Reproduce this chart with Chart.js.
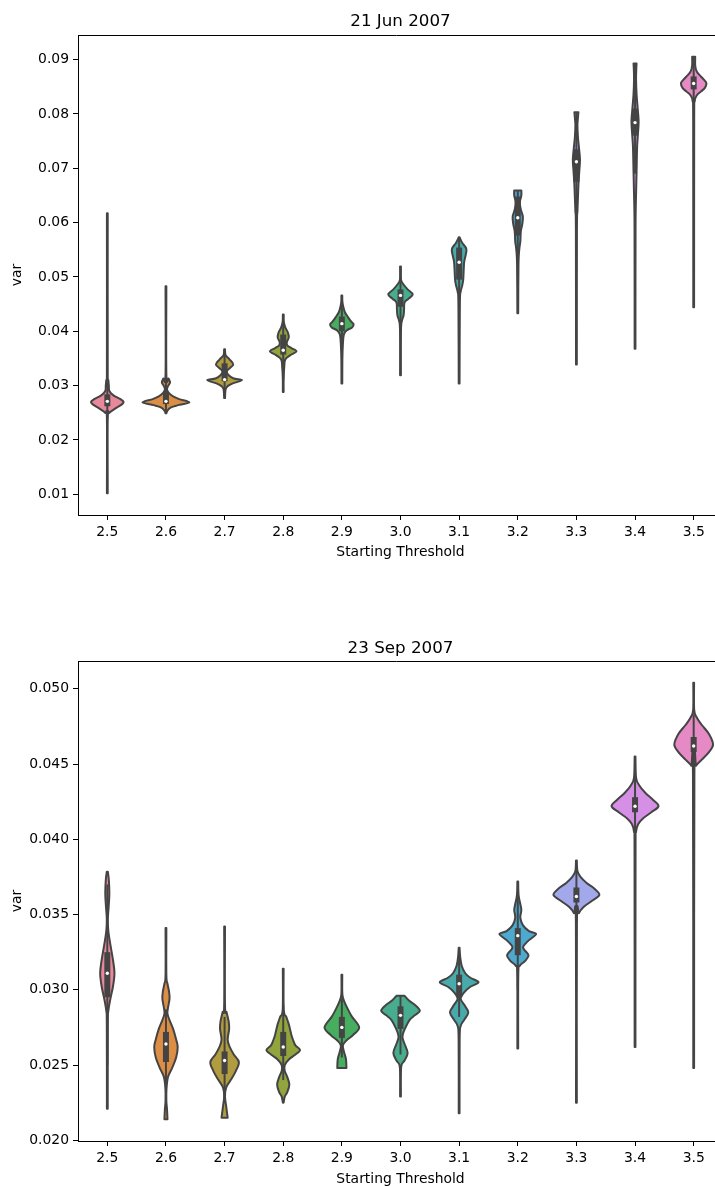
<!DOCTYPE html>
<html>
<head>
<meta charset="utf-8">
<script src="https://cdn.jsdelivr.net/npm/chart.js@4.4.0/dist/chart.umd.min.js"></script>
<style>
  html, body { margin: 0; padding: 0; background: #fff; width: 715px; height: 1186px; overflow: hidden; }
  .panel { position: absolute; left: 0; }
</style>
</head>
<body>
<div class="panel" style="top:0"><canvas id="junChart" width="715" height="564"></canvas></div>
<div class="panel" style="top:564px"><canvas id="sepChart" width="715" height="627"></canvas></div>
<script>
  const categories = ['2.5', '2.6', '2.7', '2.8', '2.9', '3.0', '3.1', '3.2', '3.3', '3.4', '3.5'];
  const violinColors = ['#e8899b', '#dc8e44', '#b19c3f', '#92a43c', '#48ae5f', '#47ad8e',
                        '#48aaaa', '#4ea9d0', '#a3a8ea', '#d590e6', '#e68ac5'];

  // 21 Jun 2007 - violin outlines as [value, relative density], bottom to top
  const junProfiles = [
    [[0.0102,0.4],[0.0240,0.4],[0.0250,2],[0.0258,8],[0.0265,14],[0.0270,16],[0.0275,13],[0.0282,6],[0.0290,2],[0.0300,1.5],[0.0310,1],[0.0325,0.4],[0.0617,0.4]],
    [[0.0249,0.4],[0.0254,1.5],[0.0260,5],[0.0264,12],[0.0269,23],[0.0275,13],[0.0280,7],[0.0286,3],[0.0293,1],[0.0299,2],[0.0306,4],[0.0313,2.5],[0.0321,0.4],[0.0483,0.4]],
    [[0.0277,0.4],[0.0293,1],[0.0299,3],[0.0304,8],[0.0310,17],[0.0313,9],[0.0319,4],[0.0326,2],[0.0332,5],[0.0339,8.5],[0.0348,5],[0.0356,1],[0.0367,0.4]],
    [[0.0288,0.4],[0.0312,0.4],[0.0334,1],[0.0348,2],[0.0356,7],[0.0363,13],[0.0369,8],[0.0374,4],[0.0380,3.5],[0.0389,5.5],[0.0398,4.5],[0.0407,2],[0.0418,0.5],[0.0431,0.4]],
    [[0.0304,0.4],[0.0348,0.5],[0.0376,1],[0.0394,2],[0.0402,5],[0.0407,10],[0.0413,11.5],[0.0418,9],[0.0426,6],[0.0435,3],[0.0444,1.5],[0.0455,0.5],[0.0466,0.4]],
    [[0.0319,0.4],[0.0403,0.5],[0.0420,1.5],[0.0429,3],[0.0440,3.5],[0.0453,4],[0.0460,8],[0.0468,12],[0.0477,7],[0.0486,3],[0.0495,0.5],[0.0519,0.4]],
    [[0.0304,0.4],[0.0449,0.7],[0.0473,1.5],[0.0484,3],[0.0495,4],[0.0514,4.5],[0.0528,5],[0.0541,6.5],[0.0552,7],[0.0563,3],[0.0573,0.4]],
    [[0.0433,0.4],[0.0523,0.7],[0.0551,1.5],[0.0565,2.5],[0.0584,3],[0.0598,4.5],[0.0611,5],[0.0624,3],[0.0637,2],[0.0650,3.5],[0.0659,3.5]],
    [[0.0339,0.4],[0.0584,0.5],[0.0620,1],[0.0646,1.5],[0.0670,2],[0.0694,2.8],[0.0716,3.5],[0.0738,2.5],[0.0757,1.5],[0.0779,1],[0.0793,1.5],[0.0803,2]],
    [[0.0368,0.4],[0.0591,0.5],[0.0652,1],[0.0694,1.5],[0.0738,2],[0.0762,2.8],[0.0786,3.5],[0.0812,2.5],[0.0836,1.5],[0.0863,1],[0.0882,1.2],[0.0893,1.5]],
    [[0.0444,0.4],[0.0790,0.5],[0.0823,1],[0.0834,3],[0.0841,7],[0.0848,11],[0.0856,12.5],[0.0861,11],[0.0869,7],[0.0878,3],[0.0889,1.5],[0.0905,1.5]]
  ];
  const junQ1 = [0.0262, 0.0266, 0.0308, 0.0357, 0.0400, 0.0445, 0.0495, 0.0576, 0.0675, 0.0760, 0.0845];
  const junMedian = [0.0271, 0.0271, 0.0311, 0.0365, 0.0414, 0.0466, 0.0527, 0.0609, 0.0712, 0.0784, 0.0856];
  const junQ3 = [0.0284, 0.0288, 0.0341, 0.0394, 0.0427, 0.0477, 0.0554, 0.0648, 0.0735, 0.0810, 0.0869];
  const junWhiskerLo = [0.0240, 0.0250, 0.0280, 0.0310, 0.0365, 0.0400, 0.0440, 0.0520, 0.0600, 0.0690, 0.0810];
  const junWhiskerHi = [0.0310, 0.0315, 0.0367, 0.0431, 0.0466, 0.0519, 0.0573, 0.0659, 0.0803, 0.0893, 0.0905];
  const junTicks = [0.01, 0.02, 0.03, 0.04, 0.05, 0.06, 0.07, 0.08, 0.09];
  const junTickLabels = ['0.01', '0.02', '0.03', '0.04', '0.05', '0.06', '0.07', '0.08', '0.09'];

  // 23 Sep 2007
  const sepProfiles = [
    [[0.0221,0.4],[0.0277,0.5],[0.0286,1],[0.0294,3],[0.0302,5.5],[0.0311,7],[0.0320,5.5],[0.0330,3],[0.0339,1],[0.0347,0.5],[0.0355,1.3],[0.0364,2],[0.0373,1.5],[0.03785,0.5]],
    [[0.0214,1.5],[0.0221,1],[0.0226,0.4],[0.0234,0.5],[0.0242,2],[0.0248,6],[0.0255,10],[0.0262,11.5],[0.0267,10],[0.0274,7],[0.0279,4],[0.0284,1.5],[0.0288,2],[0.0294,3.5],[0.0299,3],[0.0304,1.5],[0.0310,0.4],[0.0341,0.4]],
    [[0.0215,3],[0.0223,1.5],[0.0229,0.4],[0.0235,1.5],[0.0240,6],[0.0246,11],[0.0252,14],[0.0257,9],[0.0262,5],[0.0267,3],[0.0274,4.5],[0.0279,4],[0.0285,2],[0.0290,0.4],[0.0342,0.4]],
    [[0.0225,0.4],[0.0229,1.5],[0.0232,4],[0.0237,6],[0.0242,4],[0.0246,1.5],[0.0250,1.5],[0.0254,6],[0.0257,12],[0.0260,16.5],[0.0263,12],[0.0266,10],[0.0270,8],[0.0277,5.5],[0.0282,3],[0.0287,0.5],[0.0314,0.4]],
    [[0.0248,4.5],[0.0254,4],[0.0259,2],[0.0263,1],[0.0266,4],[0.0270,11],[0.0275,17],[0.0282,10],[0.0287,6],[0.0292,2.5],[0.0297,0.5],[0.0310,0.4]],
    [[0.0229,0.4],[0.0244,0.4],[0.0250,1],[0.0253,4],[0.0258,7],[0.0264,4],[0.0268,2],[0.0271,2.5],[0.0275,5],[0.0280,9],[0.0283,14],[0.0286,19],[0.0290,14],[0.0293,8],[0.0296,4]],
    [[0.0218,0.4],[0.0267,0.5],[0.0276,1.5],[0.0280,5],[0.0285,9],[0.0290,5],[0.0294,1.5],[0.0298,4.5],[0.0302,11],[0.0305,19],[0.0308,11],[0.0311,6],[0.0316,2.5],[0.0322,1],[0.0328,0.4]],
    [[0.0261,0.4],[0.0310,0.5],[0.0316,2],[0.0319,7],[0.0323,10.5],[0.0327,6],[0.0329,5.5],[0.0333,11],[0.0337,18],[0.0339,11],[0.0343,5],[0.0348,2.5],[0.0353,3.5],[0.0357,2.5],[0.0363,0.8],[0.0372,0.4]],
    [[0.0225,0.4],[0.0345,0.5],[0.0351,2.5],[0.0355,7],[0.0359,15],[0.0363,22.5],[0.0367,18],[0.0371,10],[0.0375,4],[0.0379,1],[0.0386,0.4]],
    [[0.0262,0.4],[0.0393,0.5],[0.0405,1],[0.0410,3],[0.0414,8],[0.0418,16],[0.0422,23],[0.0426,18],[0.0431,10],[0.0436,4],[0.0441,1],[0.0455,0.4]],
    [[0.0248,0.4],[0.0443,0.7],[0.0449,2.5],[0.0453,8],[0.0458,15],[0.0463,19],[0.0470,15],[0.0476,8],[0.0481,3],[0.0486,0.5],[0.0504,0.4]]
  ];
  const sepQ1 = [0.0295, 0.0252, 0.0244, 0.0256, 0.0268, 0.0274, 0.0295, 0.0323, 0.0358, 0.0418, 0.0458];
  const sepMedian = [0.0311, 0.0264, 0.0253, 0.0262, 0.0275, 0.0283, 0.0304, 0.0336, 0.0362, 0.0422, 0.0462];
  const sepQ3 = [0.0325, 0.0272, 0.0259, 0.0272, 0.0282, 0.0289, 0.0310, 0.0341, 0.0368, 0.0428, 0.0468];
  const sepWhiskerLo = [0.0250, 0.0222, 0.0225, 0.0240, 0.0255, 0.0257, 0.0282, 0.0300, 0.0345, 0.0405, 0.0445];
  const sepWhiskerHi = [0.0370, 0.0287, 0.0282, 0.0290, 0.0294, 0.0296, 0.0322, 0.0365, 0.0379, 0.0441, 0.0483];
  const sepTicks = [0.020, 0.025, 0.030, 0.035, 0.040, 0.045, 0.050];
  const sepTickLabels = ['0.020', '0.025', '0.030', '0.035', '0.040', '0.045', '0.050'];

  Chart.defaults.font.family = "'DejaVu Sans', sans-serif";
  Chart.defaults.color = '#000';

  const outline = '#444444';
  // the axes run on past the right edge of the picture: full plot width 645px, 637px shown
  const plotLeft = 78, plotFullRight = 723, pageRight = 715;
  const xMax = -0.5 + categories.length * (pageRight - plotLeft) / (plotFullRight - plotLeft);

  // catmull-rom through the points, current point must be pts[0]
  function smoothTo(ctx, pts) {
    for (let i = 0; i < pts.length - 1; i++) {
      const p0 = pts[i - 1] || pts[i], p1 = pts[i], p2 = pts[i + 1], p3 = pts[i + 2] || p2;
      ctx.bezierCurveTo(p1.x + (p2.x - p0.x) / 6, p1.y + (p2.y - p0.y) / 6,
                        p2.x - (p3.x - p1.x) / 6, p2.y - (p3.y - p1.y) / 6, p2.x, p2.y);
    }
  }

  function violinPlugin(set) {
    return {
      id: 'violins',
      beforeDatasetsDraw(chart) {
        const {ctx, chartArea, scales: {x, y}} = chart;
        const dMax = Math.max(...set.profiles.flat().map(p => p[1]));
        ctx.save();
        ctx.beginPath();
        ctx.rect(chartArea.left, chartArea.top, chartArea.width, chartArea.height);
        ctx.clip();
        set.profiles.forEach((prof, i) => {
          const right = prof.map(([v, d]) => ({x: x.getPixelForValue(i + d / dMax * 0.4), y: y.getPixelForValue(v)}));
          const left = prof.slice().reverse().map(([v, d]) => ({x: x.getPixelForValue(i - d / dMax * 0.4), y: y.getPixelForValue(v)}));
          ctx.beginPath();
          ctx.moveTo(right[0].x, right[0].y);
          smoothTo(ctx, right);
          ctx.lineTo(left[0].x, left[0].y);
          smoothTo(ctx, left);
          ctx.closePath();
          ctx.fillStyle = violinColors[i];
          ctx.fill();
          ctx.lineWidth = 2;
          ctx.lineJoin = 'round';
          ctx.strokeStyle = outline;
          ctx.stroke();

          const cx = x.getPixelForValue(i);
          ctx.beginPath();
          ctx.moveTo(cx, y.getPixelForValue(set.lo[i]));
          ctx.lineTo(cx, y.getPixelForValue(set.hi[i]));
          ctx.lineWidth = 2;
          ctx.stroke();
          ctx.beginPath();
          ctx.moveTo(cx, y.getPixelForValue(set.q1[i]));
          ctx.lineTo(cx, y.getPixelForValue(set.q3[i]));
          ctx.lineWidth = 6;
          ctx.stroke();
        });
        ctx.restore();
      },
      afterDraw(chart) {
        // top spine
        const {ctx, chartArea} = chart;
        ctx.save();
        ctx.strokeStyle = '#000';
        ctx.lineWidth = 1;
        ctx.beginPath();
        ctx.moveTo(chartArea.left, Math.round(chartArea.top) + 0.5);
        ctx.lineTo(chartArea.right, Math.round(chartArea.top) + 0.5);
        ctx.stroke();
        ctx.restore();
      }
    };
  }

  // x title centred on the whole axis (which runs past the picture edge)
  function axisTitlePlugin(text) {
    return {
      id: 'xTitle',
      afterDraw(chart) {
        const {ctx, scales: {x}} = chart;
        ctx.save();
        ctx.font = "13.9px 'DejaVu Sans', sans-serif";
        ctx.fillStyle = '#000';
        ctx.textAlign = 'center';
        ctx.textBaseline = 'middle';
        ctx.fillText(text, x.getPixelForValue((categories.length - 1) / 2), x.bottom - 3.7 - 8.34);
        ctx.restore();
      }
    };
  }

  // titles are centred on the full plot width too
  const titlePlugin = {
    id: 'centreTitle',
    afterLayout(chart) {
      const t = chart.titleBlock;
      if (!t) return;
      const cx = chart.scales.x.getPixelForValue((categories.length - 1) / 2);
      const half = Math.min(cx, chart.width - cx);
      t.left = cx - half;
      t.right = cx + half;
      t.width = 2 * half;
    }
  };
  Chart.register(titlePlugin);

  function makeChart(id, title, titlePad, xAxisHeight, set) {
    const all = set.profiles.flat().map(p => p[0]);
    const lo = Math.min(...all), hi = Math.max(...all);
    const margin = (hi - lo) * 0.05;
    const tickFont = {size: 13.9};
    return new Chart(document.getElementById(id), {
      type: 'scatter',
      data: {
        datasets: [{
          data: set.median.map((m, i) => ({x: i, y: m})),
          pointRadius: 1.7,
          pointHoverRadius: 1.7,
          backgroundColor: '#ffffff',
          borderWidth: 0
        }]
      },
      options: {
        responsive: false,
        animation: false,
        events: [],
        layout: {padding: 0, autoPadding: false},
        plugins: {
          legend: {display: false},
          tooltip: {enabled: false},
          title: {
            display: true,
            text: title,
            fullSize: true,
            color: '#000',
            font: {size: 16.7, weight: 'normal', lineHeight: 1.2},
            padding: titlePad
          }
        },
        scales: {
          x: {
            type: 'linear',
            min: -0.5,
            max: xMax,
            afterBuildTicks: s => { s.ticks = categories.map((c, i) => ({value: i})); },
            afterFit: s => { s.height = xAxisHeight; },
            ticks: {callback: (v, i) => categories[i], autoSkip: false, maxRotation: 0, padding: 4, color: '#000', font: tickFont},
            grid: {drawOnChartArea: false, drawTicks: true, tickLength: 5, color: '#000', lineWidth: 1},
            border: {display: true, color: '#000', width: 1},
            title: {display: false}
          },
          y: {
            type: 'linear',
            min: lo - margin,
            max: hi + margin,
            afterBuildTicks: s => { s.ticks = set.ticks.map(v => ({value: v})); },
            afterFit: s => { s.width = plotLeft; },
            ticks: {callback: (v, i) => set.tickLabels[i], padding: 4, color: '#000', font: tickFont},
            grid: {drawOnChartArea: false, drawTicks: true, tickLength: 5, color: '#000', lineWidth: 1},
            border: {display: true, color: '#000', width: 1},
            title: {display: true, text: 'var', color: '#000', font: {size: 13.9, lineHeight: 1.2}, padding: {top: 8.7, bottom: 0}}
          }
        }
      },
      plugins: [violinPlugin(set), axisTitlePlugin('Starting Threshold')]
    });
  }

  makeChart('junChart', '21 Jun 2007', {top: 12, bottom: 3}, 49, {
    profiles: junProfiles, q1: junQ1, median: junMedian, q3: junQ3,
    lo: junWhiskerLo, hi: junWhiskerHi, ticks: junTicks, tickLabels: junTickLabels
  });
  makeChart('sepChart', '23 Sep 2007', {top: 75, bottom: 2}, 50, {
    profiles: sepProfiles, q1: sepQ1, median: sepMedian, q3: sepQ3,
    lo: sepWhiskerLo, hi: sepWhiskerHi, ticks: sepTicks, tickLabels: sepTickLabels
  });
</script>
</body>
</html>
